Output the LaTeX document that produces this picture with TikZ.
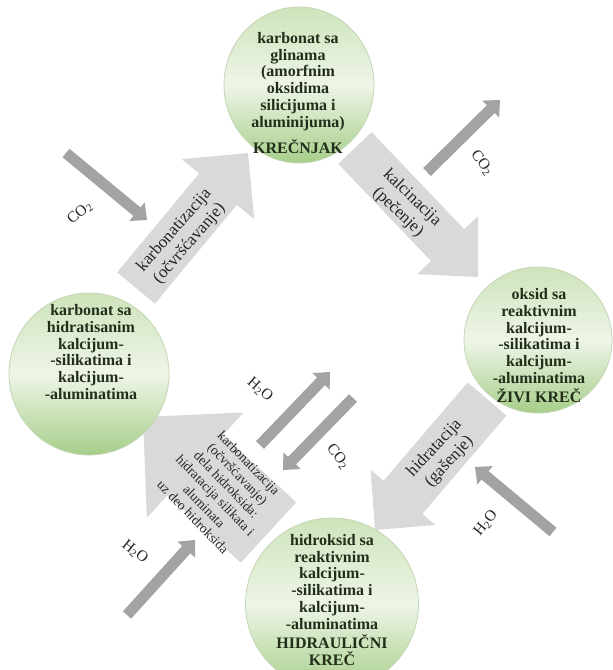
\documentclass[tikz,border=0pt]{standalone}
\usepackage{fontspec}
\setmainfont{Liberation Serif}
\usetikzlibrary{calc,shapes.geometric}
\definecolor{circTop}{RGB}{206,227,187}
\definecolor{circMid}{RGB}{238,245,231}
\definecolor{circBot}{RGB}{166,206,137}
\definecolor{circEdge}{RGB}{196,214,182}
\definecolor{circText}{RGB}{34,46,26}
\definecolor{bigGrey}{RGB}{217,217,217}
\definecolor{smallGrey}{RGB}{163,163,163}
% block arrow: tail, tip, shaft half width, head half width, head length, style
\newcommand{\blockarrow}[6]{%
  \coordinate (bah) at ($(#2)!#5!(#1)$);
  \fill[#6] ($(#1)!#3!90:(#2)$) -- ($(bah)!#3!-90:(#1)$) -- ($(bah)!#4!-90:(#1)$) -- (#2)
    -- ($(bah)!#4!90:(#1)$) -- ($(bah)!#3!90:(#1)$) -- ($(#1)!#3!-90:(#2)$) -- cycle;
}
\tikzset{
  bubble/.style={ellipse, draw=circEdge, line width=0.8pt, top color=circTop, bottom color=circBot, middle color=circMid, inner sep=0pt},
  bubbletext/.style={align=center, text=circText, inner sep=0pt, font=\fontsize{16}{16.7}\selectfont\bfseries},
  arrowtext/.style={align=center, text=black!85, inner sep=0pt, font=\fontsize{17}{20}\selectfont},
  smalltext/.style={align=center, text=black!85, inner sep=0pt, font=\fontsize{13.5}{15.5}\selectfont},
  chemlabel/.style={text=black!85, inner sep=0pt, font=\fontsize{15.5}{17}\selectfont},
}
\begin{document}
\begin{tikzpicture}[x=1pt,y=-1pt]
\useasboundingbox (0,0) rectangle (613,670);
\clip (0,0) rectangle (613,670);
\fill[white] (0,0) rectangle (613,670);

% big process arrows
\coordinate (aT) at (136,288); \coordinate (aP) at (248,153);
\coordinate (bT) at (355,148); \coordinate (bP) at (478,277);
\coordinate (cT) at (487,399); \coordinate (cP) at (375,530);
\coordinate (dT) at (268.5,532.5); \coordinate (dP) at (143,417);
\blockarrow{aT}{aP}{24.5pt}{47pt}{47pt}{bigGrey}
\blockarrow{bT}{bP}{23pt}{42pt}{44pt}{bigGrey}
\blockarrow{cT}{cP}{25.5pt}{42.5pt}{43pt}{bigGrey}
\blockarrow{dT}{dP}{41pt}{71.5pt}{71pt}{bigGrey}

% small arrows
\coordinate (s1T) at (66,153);  \coordinate (s1P) at (147,220);
\coordinate (s2T) at (427,172); \coordinate (s2P) at (500,100);
\coordinate (s3T) at (260,445); \coordinate (s3P) at (330,372);
\coordinate (s4T) at (353,398); \coordinate (s4P) at (283,470);
\coordinate (s5T) at (553,532); \coordinate (s5P) at (475,467);
\coordinate (s6T) at (127,615); \coordinate (s6P) at (195,540);
\blockarrow{s1T}{s1P}{5.5pt}{12pt}{13pt}{smallGrey}
\blockarrow{s2T}{s2P}{5.5pt}{12pt}{13pt}{smallGrey}
\blockarrow{s3T}{s3P}{5.5pt}{12pt}{13pt}{smallGrey}
\blockarrow{s4T}{s4P}{5.5pt}{12pt}{13pt}{smallGrey}
\blockarrow{s5T}{s5P}{5.5pt}{12pt}{13pt}{smallGrey}
\blockarrow{s6T}{s6P}{5.5pt}{12pt}{13pt}{smallGrey}

% circles
\node[bubble, minimum width=150pt, minimum height=156pt] (krecnjak) at (299,85) {};
\node[bubble, minimum width=148pt, minimum height=146pt] (zivi) at (538,340) {};
\node[bubble, minimum width=160pt, minimum height=162pt] (karb) at (89,374) {};
\node[bubble, minimum width=173pt, minimum height=172pt] (hidr) at (332,604) {};

% circle texts
\node[bubbletext] (tKrec) at (298,93) {karbonat sa\\glinama\\(amorfnim\\oksidima\\silicijuma i\\aluminijuma)\\[8pt]KREČNJAK};
\node[bubbletext] (tZivi) at (539,345.5) {oksid sa\\reaktivnim\\kalcijum-\\-silikatima i\\kalcijum-\\-aluminatima\\[2pt]ŽIVI KREČ};
\node[bubbletext] (tKarb) at (91,352) {karbonat sa\\hidratisanim\\kalcijum-\\-silikatima i\\kalcijum-\\-aluminatima};
\node[bubbletext] (tHidr) at (332,600) {hidroksid sa\\reaktivnim\\kalcijum-\\-silikatima i\\kalcijum-\\-aluminatima\\[3pt]HIDRAULIČNI\\KREČ};

% arrow texts
\node[arrowtext, rotate=49] (tA) at (182,237) {karbonatizacija\\(očvršćavanje)};
\node[arrowtext, rotate=-44] (tB) at (405,205) {kalcinacija\\(pečenje)};
\node[arrowtext, rotate=47] (tC) at (442,455) {hidratacija\\(gašenje)};
\node[smalltext, rotate=-46] (tD) at (221,490) {karbonatizacija\\(očvršćavanje)\\dela hidroksida:\\hidratacija silikata i\\aluminata\\uz deo hidroksida};

% chemical labels
\node[chemlabel, rotate=40] (l1) at (80,213) {CO\textsubscript{2}};
\node[chemlabel, rotate=-54] (l2) at (482,163) {CO\textsubscript{2}};
\node[chemlabel, rotate=-41] (l3) at (260,390) {H\textsubscript{2}O};
\node[chemlabel, rotate=-52] (l4) at (338,457) {CO\textsubscript{2}};
\node[chemlabel, rotate=51] (l5) at (486,523) {H\textsubscript{2}O};
\node[chemlabel, rotate=-39] (l6) at (135,552) {H\textsubscript{2}O};
\end{tikzpicture}
\end{document}
